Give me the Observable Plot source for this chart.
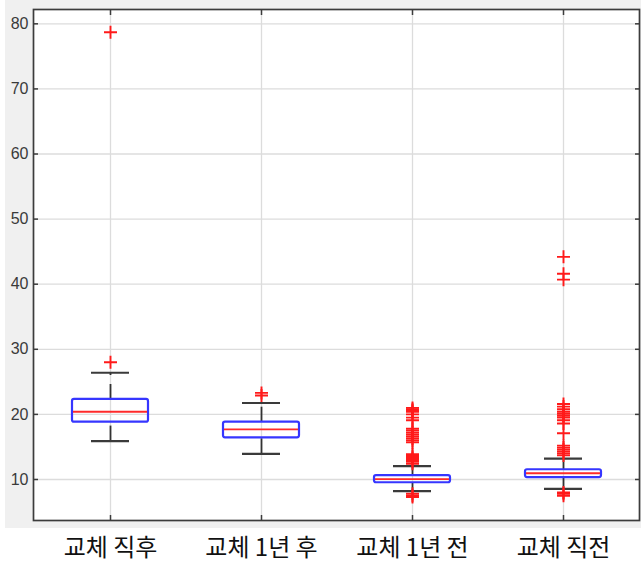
<!DOCTYPE html>
<html>
<head>
<meta charset="utf-8">
<script src="https://cdn.jsdelivr.net/npm/d3@7"></script>
<script src="https://cdn.jsdelivr.net/npm/@observablehq/plot@0.6"></script>
<style>
  html, body { margin: 0; padding: 0; background: #ffffff; }
  #chart svg { display: block; }
</style>
</head>
<body>
<div id="chart"></div>
<script>
const categories = ["교체 직후", "교체 1년 후", "교체 1년 전", "교체 직전"];
const q1 = [18.8, 16.4, 9.5, 10.3];
const medians = [20.4, 17.7, 10.05, 10.95];
const q3 = [22.3, 18.8, 10.6, 11.5];
const whiskerLow = [15.9, 13.95, 8.2, 8.55];
const whiskerHigh = [26.4, 21.75, 12.05, 13.2];
const outliers1 = [78.7, 28.0];
const outliers2 = [23.3, 22.9];
const outliers3 = [21.0, 20.8, 20.6, 20.4, 20.0, 19.5, 19.1, 17.8, 17.5, 17.2, 16.9, 16.6, 16.3, 16.0, 15.7,
                   13.9, 13.6, 13.3, 13.0, 12.7, 12.4, 7.8, 7.5, 7.3];
const outliers4 = [44.2, 41.6, 40.7, 21.6, 21.2, 20.8, 20.4, 20.1, 19.8, 19.5, 19.1, 18.6, 17.1,
                   15.2, 14.9, 14.6, 14.3, 14.0, 13.7, 8.0, 7.8, 7.5];
const yTicks = [10, 20, 30, 40, 50, 60, 70, 80];

const boxes = categories.map((c, i) => ({
  cat: c, q1: q1[i], med: medians[i], q3: q3[i], lo: whiskerLow[i], hi: whiskerHigh[i]
}));
const outlierLists = [outliers1, outliers2, outliers3, outliers4];
const outlierRows = outlierLists.flatMap((arr, i) => arr.map(v => ({cat: categories[i], v})));

const plusSymbol = {
  draw(context, size) {
    const r = Math.sqrt(size / Math.PI);
    context.moveTo(-r, 0); context.lineTo(r, 0);
    context.moveTo(0, -r); context.lineTo(0, r);
  }
};

const W = 641, H = 565;
const background = (index, scales, values, dimensions) => {
  const g = d3.create("svg:g");
  g.append("rect").attr("x", 5).attr("y", 0).attr("width", dimensions.width - 5).attr("height", 528).attr("fill", "#f0f0f0");
  g.append("rect")
    .attr("x", dimensions.marginLeft).attr("y", dimensions.marginTop)
    .attr("width", dimensions.width - dimensions.marginLeft - dimensions.marginRight)
    .attr("height", dimensions.height - dimensions.marginTop - dimensions.marginBottom)
    .attr("fill", "#ffffff");
  return g.node();
};

const chart = Plot.plot({
  width: W,
  height: H,
  marginLeft: 33,
  marginRight: 2,
  marginTop: 9,
  marginBottom: 45,
  style: {background: "transparent", fontFamily: "'Liberation Sans', Arial, sans-serif"},
  x: {type: "band", domain: categories, paddingInner: 0.5, paddingOuter: 0.25, label: null},
  y: {domain: [3.7, 82.2], label: null},
  marks: [
    background,
    Plot.gridY(yTicks, {stroke: "#dcdcdc", strokeOpacity: 1, strokeWidth: 1.3}),
    Plot.gridX(categories, {stroke: "#dcdcdc", strokeOpacity: 1, strokeWidth: 1.3}),
    // whiskers (dashed)
    Plot.ruleX(boxes, {x: "cat", y1: "q3", y2: "hi", stroke: "#333333", strokeWidth: 1.8, strokeDasharray: "15,9"}),
    Plot.ruleX(boxes, {x: "cat", y1: "lo", y2: "q1", stroke: "#333333", strokeWidth: 1.8, strokeDasharray: "15,9"}),
    // caps
    Plot.tickY(boxes, {x: "cat", y: "hi", stroke: "#3a3a3a", strokeWidth: 2.2, insetLeft: 19, insetRight: 19}),
    Plot.tickY(boxes, {x: "cat", y: "lo", stroke: "#3a3a3a", strokeWidth: 2.2, insetLeft: 19, insetRight: 19}),
    // boxes
    Plot.barY(boxes, {x: "cat", y1: "q1", y2: "q3", fill: "none", stroke: "#3636ff", strokeWidth: 2.2, rx: 2}),
    // medians
    Plot.tickY(boxes, {x: "cat", y: "med", stroke: "#ff2a2a", strokeWidth: 1.9, insetLeft: 1, insetRight: 1}),
    // outliers
    Plot.dot(outlierRows, {x: "cat", y: "v", symbol: plusSymbol, r: 6.5, stroke: "#ff1a1a", strokeWidth: 1.9, fill: "none"}),
    // frame
    Plot.frame({stroke: "#3c3c3c", strokeWidth: 1.7}),
    // axes
    Plot.axisY(yTicks, {anchor: "left", tickSize: -5, tickPadding: 10, fontSize: 16, color: "#3a3a3a", stroke: "#3c3c3c", strokeWidth: 1.5}),
    Plot.axisY(yTicks, {anchor: "right", tickSize: -5, tickFormat: () => "", stroke: "#3c3c3c", strokeWidth: 1.5}),
    Plot.axisX(categories, {anchor: "top", tickSize: -5, tickFormat: () => "", stroke: "#3c3c3c", strokeWidth: 1.5}),
    Plot.axisX(categories, {anchor: "bottom", tickSize: -5, tickPadding: 23, fontSize: 24, fontWeight: 400, fill: "#111111",
      fontFamily: "'Noto Sans CJK KR', sans-serif", stroke: "#3c3c3c", strokeWidth: 1.5})
  ]
});
document.getElementById("chart").appendChild(chart);
</script>
</body>
</html>
